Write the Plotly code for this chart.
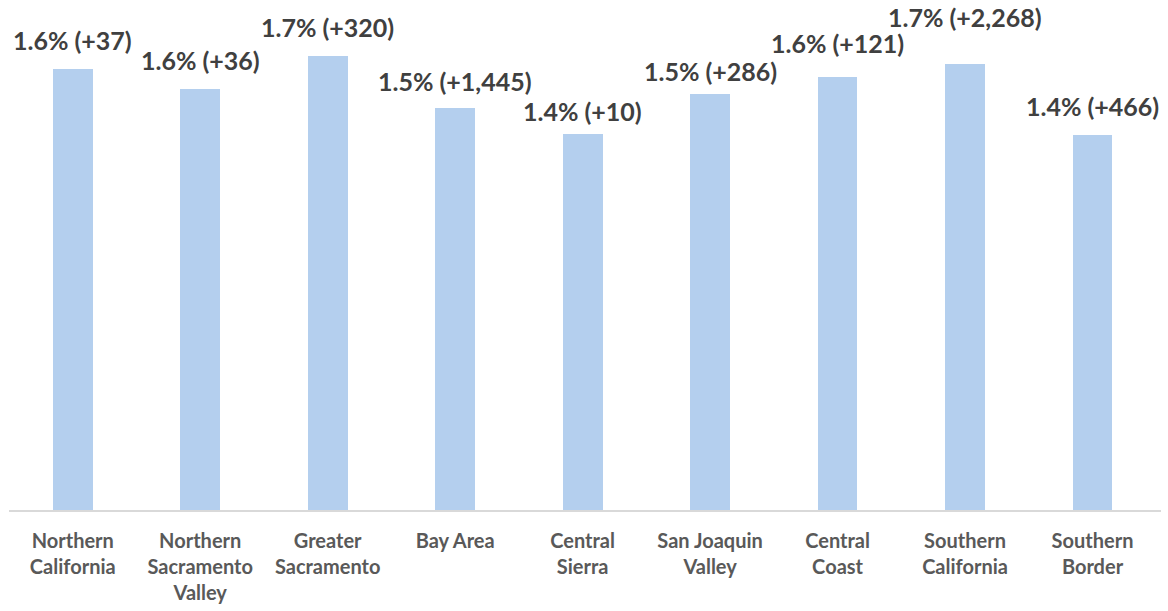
import plotly.graph_objects as go

categories = [
    "Northern<br>California",
    "Northern<br>Sacramento<br>Valley",
    "Greater<br>Sacramento",
    "Bay Area",
    "Central<br>Sierra",
    "San Joaquin<br>Valley",
    "Central<br>Coast",
    "Southern<br>California",
    "Southern<br>Border",
]
growth_pct = [1.633, 1.558, 1.683, 1.489, 1.393, 1.540, 1.604, 1.653, 1.390]
label_pct = ["1.6%", "1.6%", "1.7%", "1.5%", "1.4%", "1.5%", "1.6%", "1.7%", "1.4%"]
label_change = ["+37", "+36", "+320", "+1,445", "+10", "+286", "+121", "+2,268", "+466"]

labels = [f"{p} ({c})" for p, c in zip(label_pct, label_change)]

# per-label vertical nudge (px) mirroring the hand-placed labels in the original
label_nudge = [0, 0, 0, -2, -6, -6, 5, 18, 0]

fig = go.Figure()
fig.add_trace(go.Bar(
    x=categories,
    y=growth_pct,
    marker=dict(color="#B4CFEE", line=dict(width=0)),
    width=0.3125,
    hoverinfo="skip",
))

for x, y, t, n in zip(categories, growth_pct, labels, label_nudge):
    fig.add_annotation(
        x=x, y=y, text=t, showarrow=False,
        xref="x", yref="y", yanchor="bottom", yshift=12 + n,
        font=dict(family="Lato", size=25, color="#404040", weight="bold"),
    )

fig.update_layout(
    width=1168, height=611,
    margin=dict(l=9, r=7, t=10, b=101, autoexpand=False),
    paper_bgcolor="white", plot_bgcolor="white",
    showlegend=False,
    bargap=0,
    xaxis=dict(
        type="category",
        automargin=False,
        showline=True, linecolor="#D9D9D9", linewidth=1.5,
        ticks="", showgrid=False,
        tickfont=dict(family="Lato", size=20, color="#595959", weight="bold"),
        ticklabelstandoff=12,
    ),
    yaxis=dict(
        range=[0, 500 / 270],
        visible=False, showgrid=False, zeroline=False,
        automargin=False,
    ),
)

fig.write_html(
    "out.html",
    config={"displayModeBar": False},
    post_script="document.body.style.margin='0';document.body.style.overflow='hidden';",
)
